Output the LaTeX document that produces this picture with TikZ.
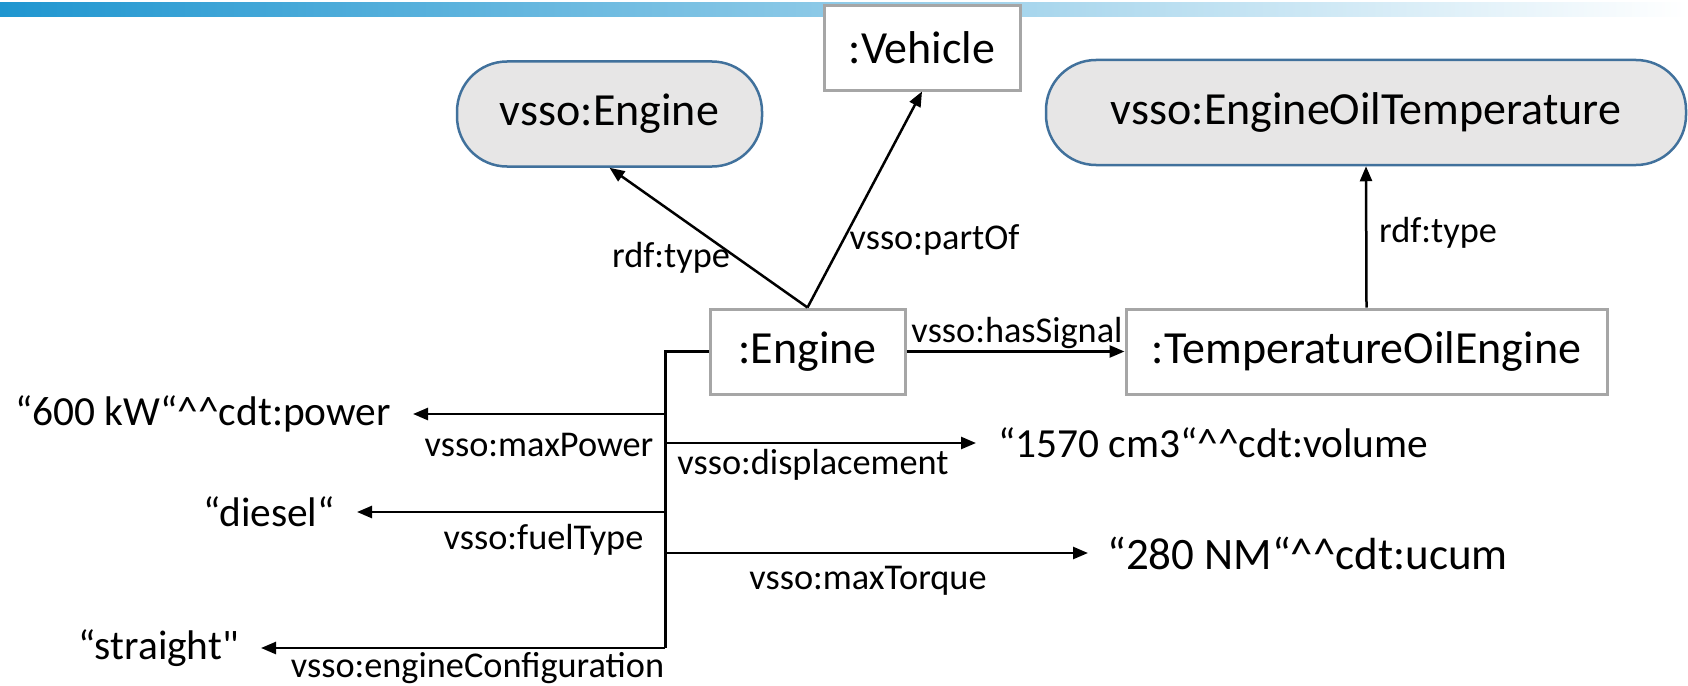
\documentclass[tikz,border=0pt]{standalone}
\usepackage{fontspec}
\setmainfont{Carlito}
\usetikzlibrary{arrows.meta}
\definecolor{pillfill}{HTML}{E7E6E6}
\definecolor{pilledge}{HTML}{41719C}
\definecolor{boxedge}{HTML}{A6A6A6}
\definecolor{barblue}{HTML}{1F96D0}
\definecolor{barmid}{HTML}{B4CEE4}
\newcommand{\hats}{\textasciicircum\textasciicircum}

\begin{document}
\begin{tikzpicture}[x=1pt,y=-1pt,
  cls/.style={rectangle, rounded corners=50pt, draw=pilledge, fill=pillfill,
    line width=2.5pt, font=\fontsize{46}{50}\selectfont,
    minimum height=105pt, inner sep=0pt},
  inst/.style={rectangle, draw=boxedge, fill=white, line width=3pt,
    font=\fontsize{46}{50}\selectfont, minimum height=85pt, inner sep=0pt},
  lit/.style={font=\fontsize{41.4}{44}\selectfont, inner ysep=0pt, inner xsep=22pt},
  lbl/.style={font=\fontsize{36.3}{40}\selectfont, inner sep=0pt},
  arr/.style={line width=2.5pt, -{Triangle[length=15pt,width=12pt]}},
  bus/.style={line width=3pt}]

\useasboundingbox (0,0) rectangle (1688,685);

% header strip
\shade[left color=barblue, middle color=barmid, right color=white] (0,3) rectangle (1688,17);

% classes and instances
\node[cls, minimum width=305pt] (engcls) at (609.5,114) {vsso:Engine};
\node[inst, minimum width=196pt, minimum height=84pt] (veh) at (922,48) {:Vehicle};
\node[cls, minimum width=640pt] (eotcls) at (1366,112.5) {vsso:EngineOilTemperature};
\node[inst, minimum width=195pt] (eng) at (807.5,351.5) {:Engine};
\node[inst, minimum width=481pt] (toe) at (1366.5,351.5) {:TemperatureOilEngine};

% object properties
\draw[arr] (eng.north) -- (engcls.south);
\draw[arr] (eng.north) -- (veh.south);
\draw[arr] (eng.east) -- (toe.west);
\draw[arr] (toe.north) -- (eotcls.south);

\node[lbl] (l-type1) at (671,258) {rdf:type};
\node[lbl] (l-partof) at (934.5,240) {vsso:partOf};
\node[lbl] (l-signal) at (1017,333) {vsso:hasSignal};
\node[lbl] (l-type2) at (1438,233) {rdf:type};

% data property bus
\coordinate (bustop) at (665,351.5);
\coordinate (busbot) at (665,648);
\coordinate (b1) at (665,414);
\coordinate (b2) at (665,512);
\coordinate (b4) at (665,443);
\coordinate (b5) at (665,553);
\draw[bus] (eng.west) -- (bustop) -- (busbot);

% literals
\node[lit, anchor=east] (pw) at (413,414) {“600 kW“\hats cdt:power};
\node[lit, anchor=east] (fuel) at (357,512) {“diesel“};
\node[lit, anchor=east] (conf) at (261,648) {“straight\textquotedbl};
\node[lit, anchor=west] (vol) at (976,443) {“1570 cm3“\hats cdt:volume};
\node[lit, anchor=west, inner xsep=19pt, font=\fontsize{45}{48}\selectfont] (tq) at (1088,553) {“280 NM“\hats cdt:ucum};

\draw[arr] (b1) -- (pw.east);
\draw[arr] (b2) -- (fuel.east);
\draw[arr] (busbot) -- (conf.east);
\draw[arr] (b4) -- (vol.west);
\draw[arr] (b5) -- (tq.west);

\node[lbl] (l-power) at (539,445) {vsso:maxPower};
\node[lbl] (l-fuel) at (543.5,540) {vsso:fuelType};
\node[lbl] (l-conf) at (477.5,668) {vsso:engineConfiguration};
\node[lbl] (l-disp) at (813,465) {vsso:displacement};
\node[lbl] (l-torque) at (868,581) {vsso:maxTorque};
\end{tikzpicture}
\end{document}
